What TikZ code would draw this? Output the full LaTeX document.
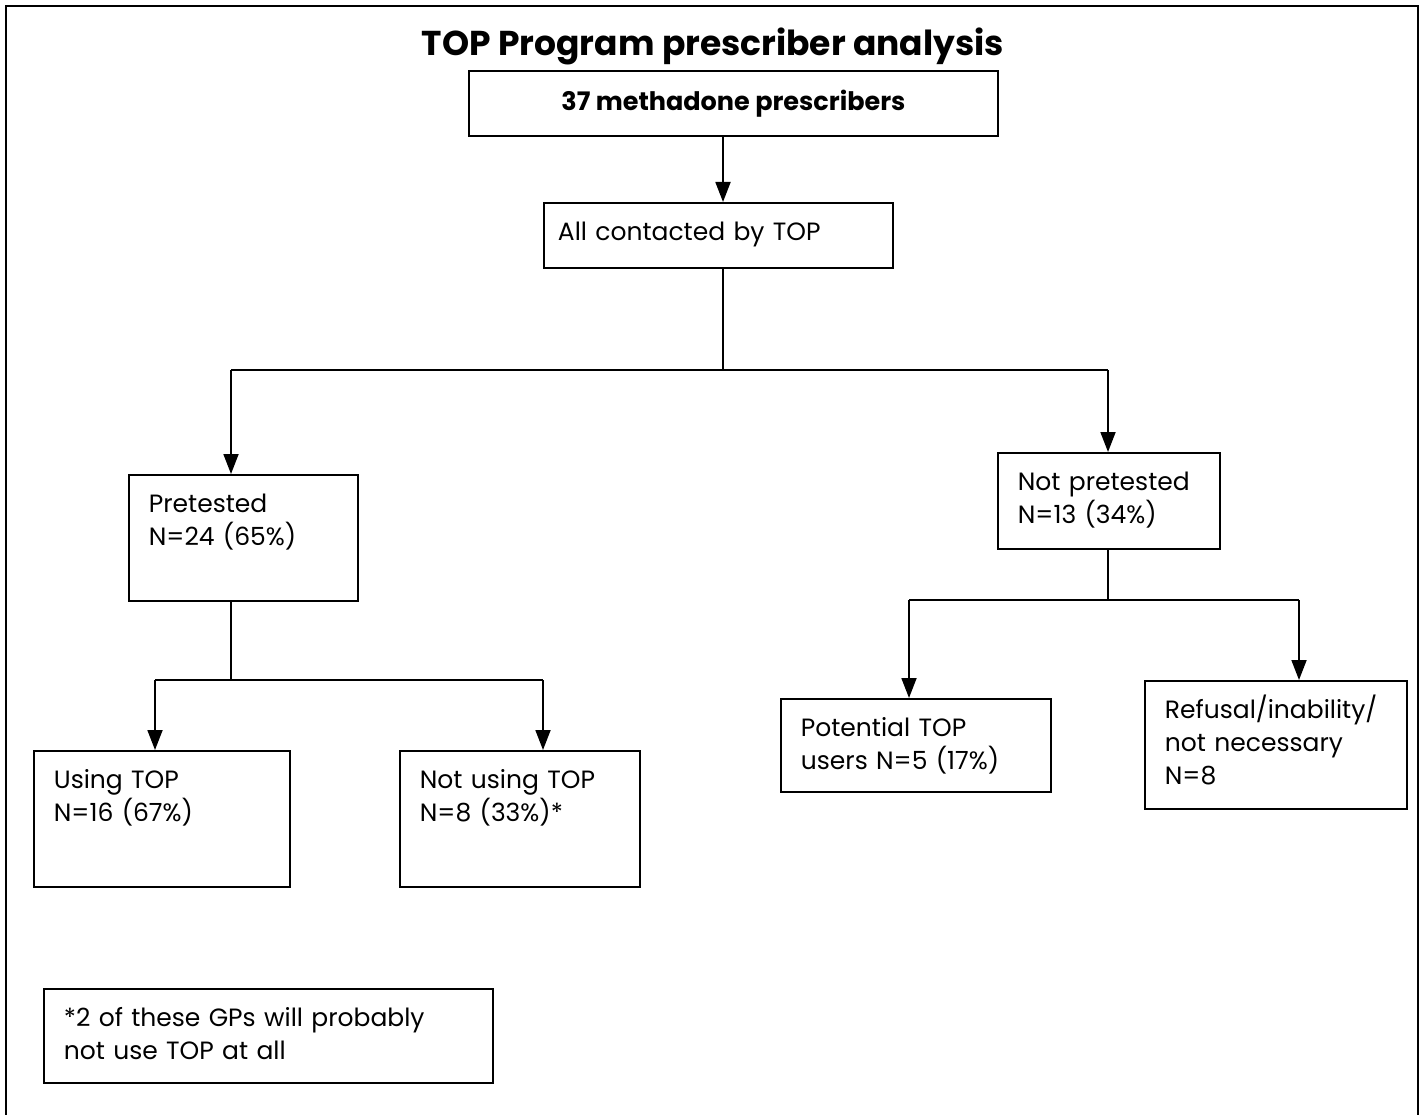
\documentclass[tikz,border=0pt]{standalone}
\usepackage{fontspec}
\setmainfont{Poppins}
\usetikzlibrary{arrows.meta}
\begin{document}
\begin{tikzpicture}[x=1pt,y=-1pt,
  box/.style={draw, line width=1.8pt, anchor=north west, inner ysep=0pt, inner xsep=20pt,
    align=left, font=\fontsize{25}{33}\selectfont, text height=38pt},
  topbox/.style={draw, line width=1.8pt, anchor=north west, inner sep=0pt,
    font=\bfseries\fontsize{25.5}{30}\selectfont},
  con/.style={line width=1.8pt},
  arr/.style={line width=1.8pt, -{Triangle[width=15pt,length=20pt]}},
  frame/.style={line width=2.6pt}]
\useasboundingbox (0,0) rectangle (1426,1115);
\draw[frame] (6,1115) -- (6,6) -- (1418,6) -- (1418,1115);

\node[font=\bfseries\fontsize{34.5}{40}\selectfont, anchor=base, inner sep=0pt] (title) at (713,56) {TOP Program prescriber analysis};

\node[topbox, minimum width=529pt, minimum height=65pt] (b1) at (468,70) {37 methadone prescribers};
\node[box, inner xsep=14pt, text width=321pt, text depth=27pt] (b2) at (543,202) {All contacted by TOP};

\node[box, text width=189pt, text depth=88pt] (pre) at (128,474) {Pretested\\N=24 (65\%)};
\node[box, text width=182pt, text depth=58pt] (npre) at (997,452) {Not pretested\\N=13 (34\%)};

\node[box, text width=216pt, text depth=98pt] (use) at (33,750) {Using TOP\\N=16 (67\%)};
\node[box, text width=200pt, text depth=98pt] (nuse) at (399,750) {Not using TOP\\N=8 (33\%)*};

\node[box, text width=230pt, text depth=55pt] (pot) at (780,698) {Potential TOP\\users N=5 (17\%)};
\node[box, text width=222pt, text depth=90pt] (ref) at (1144,680) {Refusal/inability/\\not necessary\\N=8};

\node[box, text width=409pt, text depth=56pt] (foot) at (43,988) {*2 of these GPs will probably\\not use TOP at all};

\coordinate (j1) at (723,370);
\coordinate (jl) at (231,370);
\coordinate (jr) at (1108,370);
\coordinate (k1) at (231,680);
\coordinate (kl) at (155,680);
\coordinate (kr) at (543,680);
\coordinate (m1) at (1108,600);
\coordinate (ml) at (909,600);
\coordinate (mr) at (1299,600);

\draw[arr] (j1 |- b1.south) -- (j1 |- b2.north);
\draw[con] (j1 |- b2.south) -- (j1);
\draw[con] (jl) -- (jr);
\draw[arr] (jl) -- (jl |- pre.north);
\draw[arr] (jr) -- (jr |- npre.north);

\draw[con] (k1 |- pre.south) -- (k1);
\draw[con] (kl) -- (kr);
\draw[arr] (kl) -- (kl |- use.north);
\draw[arr] (kr) -- (kr |- nuse.north);

\draw[con] (m1 |- npre.south) -- (m1);
\draw[con] (ml) -- (mr);
\draw[arr] (ml) -- (ml |- pot.north);
\draw[arr] (mr) -- (mr |- ref.north);
\end{tikzpicture}
\end{document}
